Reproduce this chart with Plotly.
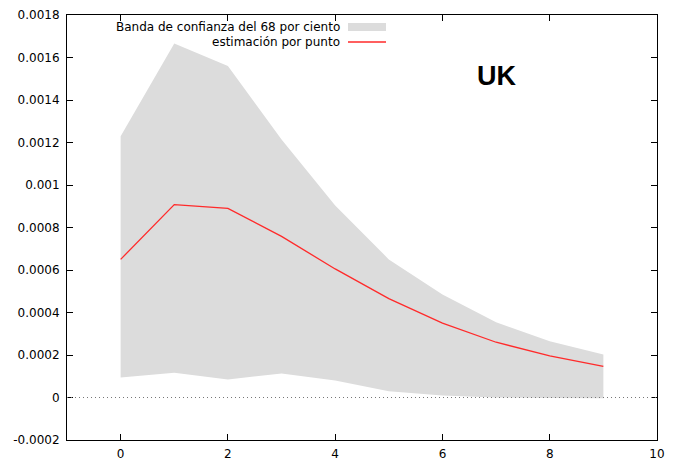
import plotly.graph_objects as go

# ---- data ----
horizon = [0, 1, 2, 3, 4, 5, 6, 7, 8, 9]
point_est = [0.00065, 0.000908, 0.00089, 0.000758, 0.000605, 0.000465, 0.00035, 0.00026, 0.000196, 0.000146]
band_upper = [0.00123, 0.001666, 0.00156, 0.001214, 0.000904, 0.00065, 0.000485, 0.000354, 0.000265, 0.000202]
band_lower = [0.000094, 0.000116, 0.000085, 0.000113, 0.00008, 0.00003, 0.00001, 0.0, -0.000002, -0.000003]

x_ticks = [0, 2, 4, 6, 8, 10]
x_ticklabels = ["0", "2", "4", "6", "8", "10"]
y_ticks = [-0.0002, 0, 0.0002, 0.0004, 0.0006, 0.0008, 0.001, 0.0012, 0.0014, 0.0016, 0.0018]
y_ticklabels = ["-0.0002", "0", "0.0002", "0.0004", "0.0006", "0.0008", "0.001",
                "0.0012", "0.0014", "0.0016", "0.0018"]

band_label = "Banda de confianza del 68 por ciento"
line_label = "estimación por punto"
country = "UK"

BAND = "#dcdcdc"
RED = "#ff2a2a"
FONT = "DejaVu Sans"

W, H = 674, 464
ML, MR, MT, MB = 67, 17, 15, 24
PW, PH = W - ML - MR, H - MT - MB

def px(xp):
    return (xp - ML) / PW

def py(yp):
    return 1 - (yp - MT) / PH

fig = go.Figure()

fig.add_trace(go.Scatter(x=horizon, y=band_lower, mode="lines", line=dict(width=0, color=BAND),
                         showlegend=False, hoverinfo="skip"))
fig.add_trace(go.Scatter(x=horizon, y=band_upper, mode="lines", line=dict(width=0, color=BAND),
                         fill="tonexty", fillcolor=BAND, showlegend=False, name=band_label))
fig.add_trace(go.Scatter(x=horizon, y=point_est, mode="lines", line=dict(width=1.3, color=RED),
                         showlegend=False, name=line_label))

shapes = [
    # zero line (dotted)
    dict(type="line", xref="paper", yref="y", x0=0, x1=1, y0=0, y1=0,
         line=dict(color="#777777", width=1, dash="1px,3px"), layer="above"),
    # legend swatches
    dict(type="rect", xref="paper", yref="paper", x0=px(348), x1=px(386), y0=py(31), y1=py(23),
         fillcolor=BAND, line=dict(width=0)),
    dict(type="line", xref="paper", yref="paper", x0=px(348), x1=px(386), y0=py(42), y1=py(42),
         line=dict(color=RED, width=1.3)),
]

annotations = [
    dict(text=band_label, xref="paper", yref="paper", x=px(342), y=py(27.3), xanchor="right",
         yanchor="middle", showarrow=False, font=dict(family=FONT, size=12, color="#000000")),
    dict(text=line_label, xref="paper", yref="paper", x=px(342), y=py(42.3), xanchor="right",
         yanchor="middle", showarrow=False, font=dict(family=FONT, size=12, color="#000000")),
    dict(text="<b>" + country + "</b>", xref="paper", yref="paper", x=px(497), y=py(75.5),
         xanchor="center", yanchor="middle", showarrow=False,
         font=dict(family="Liberation Sans", size=27, color="#000000")),
]

fig.update_layout(
    width=W, height=H,
    margin=dict(l=ML, r=MR, t=MT, b=MB, pad=0),
    paper_bgcolor="white", plot_bgcolor="white",
    font=dict(family=FONT, size=12, color="#000000"),
    shapes=shapes, annotations=annotations,
    showlegend=False,
    xaxis=dict(range=[-1, 10], tickvals=x_ticks, ticktext=x_ticklabels, ticks="inside",
               ticklen=6, tickcolor="#000000", showline=True, linecolor="#000000", linewidth=1,
               mirror="ticks", showgrid=False, zeroline=False, ticklabelstandoff=3,
               automargin=False),
    yaxis=dict(range=[-0.0002, 0.0018], tickvals=y_ticks, ticktext=y_ticklabels, ticks="inside",
               ticklen=6, tickcolor="#000000", showline=True, linecolor="#000000", linewidth=1,
               mirror="ticks", showgrid=False, zeroline=False, ticklabelstandoff=4,
               automargin=False),
)

fig.write_html("out.html")
